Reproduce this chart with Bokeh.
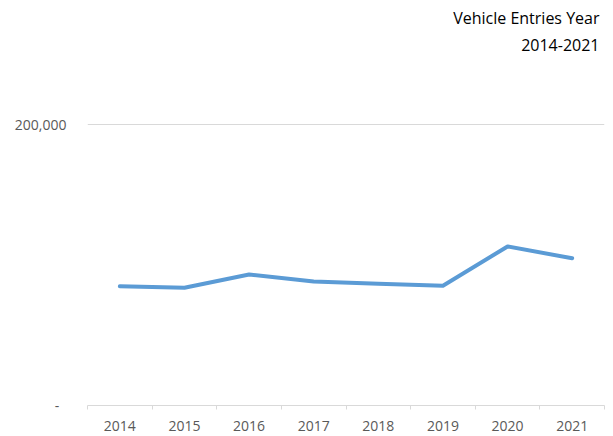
from bokeh.plotting import figure
from bokeh.models import FixedTicker, Range1d, Label, ColumnDataSource
from bokeh.embed import file_html
from bokeh.resources import INLINE

years = ["2014", "2015", "2016", "2017", "2018", "2019", "2020", "2021"]
entries = [84900, 83800, 93200, 88300, 86600, 85200, 113200, 104800]
y_ticks = [0, 200000]
y_tick_labels = ["-\u00a0\u00a0", "200,000"]
title_line1 = "Vehicle Entries Year"
title_line2 = "2014-2021"

xs = list(range(1, len(years) + 1))
src = ColumnDataSource(dict(x=xs, y=entries, year=years))

# frame spans from the top of the canvas down to the x axis (y = 405 px)
Y_TOP = 200000 * 405 / 281

p = figure(width=613, height=436, output_backend="svg", toolbar_location=None,
           x_range=Range1d(0.5, len(years) + 0.5), y_range=Range1d(0, Y_TOP),
           min_border_left=87, min_border_right=9, min_border_top=0,
           min_border_bottom=31)
p.outline_line_color = None
p.background_fill_color = "white"
p.border_fill_color = "white"

FONT = "Open Sans"
for txt, yy in ((title_line1, 388), (title_line2, 361)):
    p.add_layout(Label(x=512, y=yy, x_units="screen", y_units="screen", text=txt,
                       text_align="right", text_baseline="middle", text_font=FONT,
                       text_font_size="16px", text_color="#000000"))

p.line("x", "y", source=src, line_color="#5B9BD5", line_width=4,
       line_join="round", line_cap="round")

# x axis
p.xaxis.ticker = FixedTicker(ticks=xs, minor_ticks=[x - 0.5 for x in xs] + [xs[-1] + 0.5])
p.xaxis.major_label_overrides = {x: yr for x, yr in zip(xs, years)}
p.xaxis.major_tick_line_color = None
p.xaxis.minor_tick_line_color = "#d9d9d9"
p.xaxis.minor_tick_in = 0
p.xaxis.minor_tick_out = 4
p.xaxis.axis_line_color = "#d9d9d9"
p.xaxis.major_label_text_font = FONT
p.xaxis.major_label_text_font_size = "14px"
p.xaxis.major_label_text_color = "#595959"
p.xaxis.major_label_standoff = 9

# y axis
p.yaxis.ticker = FixedTicker(ticks=y_ticks)
p.yaxis.major_label_overrides = {t: l for t, l in zip(y_ticks, y_tick_labels)}
p.yaxis.axis_line_color = None
p.yaxis.major_tick_line_color = None
p.yaxis.minor_tick_line_color = None
p.yaxis.major_tick_out = 0
p.yaxis.major_label_standoff = 21
p.yaxis.major_label_text_font = FONT
p.yaxis.major_label_text_font_size = "14px"
p.yaxis.major_label_text_color = "#595959"

p.xgrid.grid_line_color = None
p.ygrid.grid_line_color = "#d9d9d9"
p.ygrid.ticker = FixedTicker(ticks=[200000])

open("out.html", "w").write(file_html(p, INLINE))
